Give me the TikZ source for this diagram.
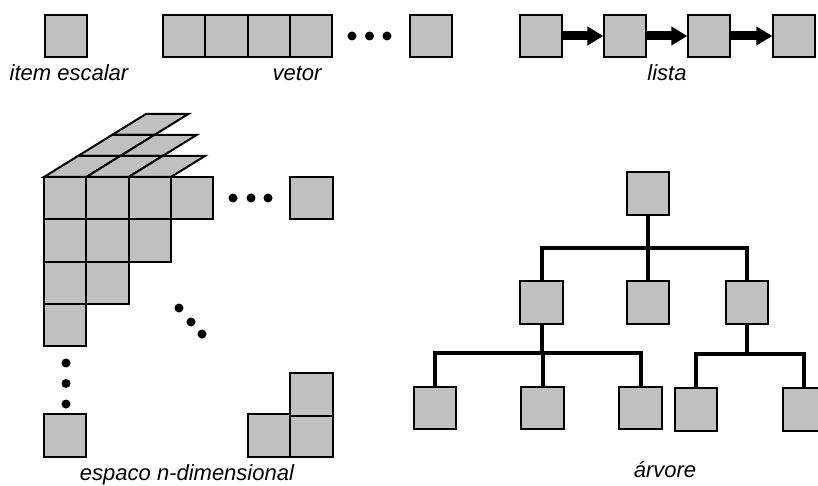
\documentclass[tikz,border=0pt]{standalone}
\usepackage{fontspec}
\setmainfont{Liberation Sans}
\usetikzlibrary{arrows.meta}
\definecolor{cellgray}{RGB}{192,192,192}

\begin{document}
\begin{tikzpicture}[x=1pt,y=-1pt,
    cell/.style={rectangle,draw,fill=cellgray,line width=2pt,minimum size=42.3pt,inner sep=0pt},
    topface/.style={draw,fill=cellgray,line width=2pt,line join=miter},
    link/.style={line width=9pt,-{Triangle[length=16pt,width=18pt]},shorten >=-0.5pt},
    branch/.style={line width=4pt,line cap=rect},
    lbl/.style={font=\fontsize{22}{26}\selectfont\itshape}]
\useasboundingbox (0,0) rectangle (818,486);

% item escalar
\node[cell] (s) at (66,36) {};
\node[lbl] (ts) at (69,73) {item escalar};

% vetor
\node[cell] (v1) at (184.2,36) {};
\node[cell] (v2) at (226.5,36) {};
\node[cell] (v3) at (268.8,36) {};
\node[cell] (v4) at (311.1,36) {};
\node[cell] (vn) at (431,36) {};
\fill (352,36) circle (4.5pt) (369.5,36) circle (4.5pt) (387,36) circle (4.5pt);
\node[lbl] (tv) at (297,73) {vetor};

% lista
\node[cell] (l1) at (541,36) {};
\node[cell] (l2) at (625,36) {};
\node[cell] (l3) at (709,36) {};
\node[cell] (l4) at (794,36) {};
\draw[link] (l1.east) -- (l2.west);
\draw[link] (l2.east) -- (l3.west);
\draw[link] (l3.east) -- (l4.west);
\node[lbl] (tl) at (667,73) {lista};

% espaco n-dimensional: faces de cima
\draw[topface] (112,135) -- ++(42.3,0) -- ++(34,-21) -- ++(-42.3,0) -- cycle;
\draw[topface] (78,156) -- ++(42.3,0) -- ++(34,-21) -- ++(-42.3,0) -- cycle;
\draw[topface] (120.3,156) -- ++(42.3,0) -- ++(34,-21) -- ++(-42.3,0) -- cycle;
\draw[topface] (44,177) -- ++(42.3,0) -- ++(34,-21) -- ++(-42.3,0) -- cycle;
\draw[topface] (86.3,177) -- ++(42.3,0) -- ++(34,-21) -- ++(-42.3,0) -- cycle;
\draw[topface] (128.6,177) -- ++(42.3,0) -- ++(34,-21) -- ++(-42.3,0) -- cycle;

% espaco n-dimensional: frente
\node[cell] (g11) at (65.15,198.15) {};
\node[cell] (g12) at (107.45,198.15) {};
\node[cell] (g13) at (149.75,198.15) {};
\node[cell] (g14) at (192.05,198.15) {};
\node[cell] (g21) at (65.15,240.45) {};
\node[cell] (g22) at (107.45,240.45) {};
\node[cell] (g23) at (149.75,240.45) {};
\node[cell] (g31) at (65.15,282.75) {};
\node[cell] (g32) at (107.45,282.75) {};
\node[cell] (g41) at (65.15,325.05) {};
\node[cell] (g1n) at (311.5,198.15) {};
\node[cell] (gn1) at (65.15,435.5) {};
\node[cell] (gna) at (269.2,435.5) {};
\node[cell] (gnb) at (311.5,435.5) {};
\node[cell] (gnc) at (311.5,394.5) {};
\fill (233,198) circle (4.5pt) (251,198) circle (4.5pt) (268,198) circle (4.5pt);
\fill (179,308) circle (4.5pt) (191,322) circle (4.5pt) (202,334) circle (4.5pt);
\fill (66,363) circle (4.5pt) (66,383.5) circle (4.5pt) (66,404) circle (4.5pt);
\node[lbl] (tn) at (187,475) {espaco n-dimensional};

% arvore
\node[cell] (r) at (648,193.5) {};
\node[cell] (a) at (541.5,302.5) {};
\node[cell] (b) at (648,302.5) {};
\node[cell] (c) at (747,302.5) {};
\node[cell] (a1) at (435,408) {};
\node[cell] (a2) at (542.5,408) {};
\node[cell] (a3) at (640.5,408) {};
\node[cell] (c1) at (696,409.5) {};
\node[cell] (c2) at (804,409.5) {};
\coordinate (j0) at (648,248);
\coordinate (ja) at (541.5,353);
\coordinate (jc) at (748,354);
\draw[branch] (r.south) -- (b.north);
\draw[branch] (a.north) |- (j0) -| (c.north);
\draw[branch] (a.south) -- (ja);
\draw[branch] (a1.north) |- (ja) -| (a3.north);
\draw[branch] (a2.north) -- (a2.north |- ja);
\draw[branch] (c.south) -- (c.south |- jc);
\draw[branch] (c1.north) |- (jc) -| (c2.north);
\node[lbl] (ta) at (665,470) {árvore};
\end{tikzpicture}
\end{document}
